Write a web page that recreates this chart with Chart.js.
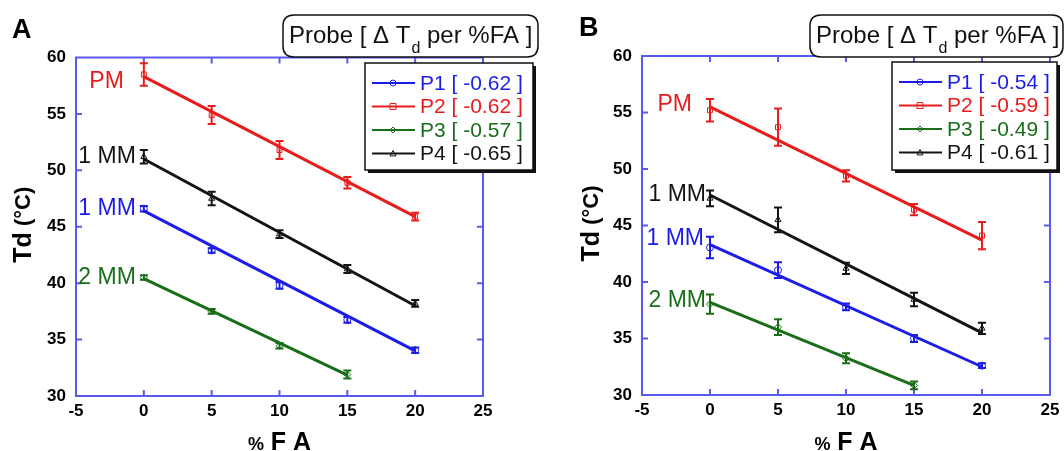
<!DOCTYPE html>
<html>
<head>
<meta charset="utf-8">
<script src="https://cdn.jsdelivr.net/npm/chart.js@4.4.1/dist/chart.umd.min.js"></script>
<style>
  html, body { margin: 0; padding: 0; background: #fff; }
  #wrap { position: relative; width: 1064px; height: 451px; overflow: hidden; }
  canvas { position: absolute; top: 0; }
  #chA { left: 0; }
  #chB { left: 545px; }
</style>
</head>
<body>
<div id="wrap">
  <canvas id="chA" width="545" height="451"></canvas>
  <canvas id="chB" width="519" height="451"></canvas>
</div>
<script>
// --- data ---
const faLevels = [0, 5, 10, 15, 20];
const probeNames = ['P1', 'P2', 'P3', 'P4'];
const probeTags = ['1 MM', 'PM', '2 MM', '1 MM'];

// panel A: Td (°C), error bar half heights, fit line ends (at first / last %FA)
const slopesA = ['-0.62', '-0.62', '-0.57', '-0.65'];
const tdA_P1 = [46.6, 42.9, 39.8, 36.75, 34.05];
const errA_P1 = [0.25, 0.2, 0.3, 0.25, 0.25];
const tdA_P2 = [58.5, 54.9, 51.8, 48.9, 45.9];
const errA_P2 = [1.0, 0.8, 0.8, 0.5, 0.35];
const tdA_P3 = [40.5, 37.5, 34.45, 31.9];
const errA_P3 = [0.2, 0.2, 0.25, 0.35];
const tdA_P4 = [51.2, 47.5, 44.35, 41.25, 38.2];
const errA_P4 = [0.6, 0.6, 0.35, 0.35, 0.3];
const fitA_P1 = [46.4, 34.0];
const fitA_P2 = [58.3, 45.9];
const fitA_P3 = [40.4, 31.85];
const fitA_P4 = [51.0, 38.0];

// panel B
const slopesB = ['-0.54', '-0.59', '-0.49', '-0.61'];
const tdB_P1 = [43.05, 41.05, 37.8, 35.0, 32.6];
const errB_P1 = [0.95, 0.7, 0.3, 0.3, 0.2];
const tdB_P2 = [55.2, 53.7, 49.4, 46.4, 44.1];
const errB_P2 = [1.0, 1.65, 0.5, 0.5, 1.2];
const tdB_P3 = [38.05, 36.0, 33.25, 30.85];
const errB_P3 = [0.85, 0.7, 0.45, 0.35];
const tdB_P4 = [47.4, 45.5, 41.2, 38.45, 35.9];
const errB_P4 = [0.7, 1.1, 0.5, 0.6, 0.5];
const fitB_P1 = [43.3, 32.5];
const fitB_P2 = [55.5, 43.7];
const fitB_P3 = [38.2, 30.85];
const fitB_P4 = [47.7, 35.5];

// --- style ---
const probeColors = ['#1c1ce8', '#e81c1c', '#1a6e1a', '#141414'];
const probeMarkers = ['circle', 'rect', 'rectRot', 'triangle'];
const frameColor = '#5a5af0';
const FONT = '"Liberation Sans", Arial, sans-serif';

function drawErrorBars(chart) {
  const ctx = chart.ctx;
  const y = chart.scales.y;
  chart.data.datasets.forEach((ds, i) => {
    if (!ds.errors) return;
    const meta = chart.getDatasetMeta(i);
    ctx.save();
    ctx.strokeStyle = ds.borderColor;
    ctx.lineWidth = 2;
    meta.data.forEach((pt, k) => {
      const v = ds.data[k].y, e = ds.errors[k];
      const top = y.getPixelForValue(v + e), bot = y.getPixelForValue(v - e);
      ctx.beginPath();
      ctx.moveTo(pt.x, top); ctx.lineTo(pt.x, bot);
      ctx.moveTo(pt.x - 4, top); ctx.lineTo(pt.x + 4, top);
      ctx.moveTo(pt.x - 4, bot); ctx.lineTo(pt.x + 4, bot);
      ctx.stroke();
    });
    ctx.restore();
  });
}

function drawFrame(chart) {
  const ctx = chart.ctx, a = chart.chartArea;
  const xs = chart.scales.x, ys = chart.scales.y;
  ctx.save();
  ctx.strokeStyle = frameColor;
  ctx.lineWidth = 2;
  ctx.strokeRect(a.left, a.top, a.right - a.left, a.bottom - a.top);
  ctx.beginPath();
  xs.ticks.forEach(t => {
    const px = xs.getPixelForValue(t.value);
    if (px <= a.left + 1 || px >= a.right - 1) return;
    ctx.moveTo(px, a.bottom); ctx.lineTo(px, a.bottom - 6);
    ctx.moveTo(px, a.top); ctx.lineTo(px, a.top + 6);
  });
  ys.ticks.forEach(t => {
    const py = ys.getPixelForValue(t.value);
    if (py <= a.top + 1 || py >= a.bottom - 1) return;
    ctx.moveTo(a.left, py); ctx.lineTo(a.left + 6, py);
    ctx.moveTo(a.right, py); ctx.lineTo(a.right - 6, py);
  });
  ctx.stroke();
  ctx.restore();
}

function marker(ctx, style, x, y, r, color) {
  ctx.save();
  ctx.strokeStyle = color; ctx.lineWidth = 1;
  ctx.beginPath();
  if (style === 'circle') ctx.arc(x, y, r, 0, Math.PI * 2);
  else if (style === 'rect') ctx.rect(x - r, y - r, 2 * r, 2 * r);
  else if (style === 'rectRot') { ctx.moveTo(x, y - r); ctx.lineTo(x + r, y); ctx.lineTo(x, y + r); ctx.lineTo(x - r, y); ctx.closePath(); }
  else { ctx.moveTo(x, y - r); ctx.lineTo(x + r, y + r * 0.8); ctx.lineTo(x - r, y + r * 0.8); ctx.closePath(); }
  ctx.stroke();
  ctx.restore();
}

function roundRect(ctx, x, y, w, h, r) {
  ctx.beginPath();
  ctx.moveTo(x + r, y);
  ctx.lineTo(x + w - r, y); ctx.quadraticCurveTo(x + w, y, x + w, y + r);
  ctx.lineTo(x + w, y + h - r); ctx.quadraticCurveTo(x + w, y + h, x + w - r, y + h);
  ctx.lineTo(x + r, y + h); ctx.quadraticCurveTo(x, y + h, x, y + h - r);
  ctx.lineTo(x, y + r); ctx.quadraticCurveTo(x, y, x + r, y);
  ctx.closePath();
}

function drawDecor(chart, p) {
  const ctx = chart.ctx, a = chart.chartArea;
  const xs = chart.scales.x, ys = chart.scales.y;

  // tags next to the first point of each probe
  ctx.save();
  ctx.font = '23px ' + FONT;
  ctx.textAlign = 'right';
  ctx.textBaseline = 'middle';
  p.series.forEach((s, i) => {
    ctx.fillStyle = probeColors[i];
    const px = xs.getPixelForValue(faLevels[0]) + p.tagShift[i][0];
    const py = ys.getPixelForValue(s.td[0]) + p.tagShift[i][1];
    ctx.fillText(probeTags[i], px, py);
  });
  ctx.restore();

  // title box
  const tb = p.titleBox;
  ctx.save();
  roundRect(ctx, tb.x, tb.y, tb.w, tb.h, 11);
  ctx.fillStyle = '#fff'; ctx.fill();
  ctx.strokeStyle = '#111'; ctx.lineWidth = 1.5; ctx.stroke();
  ctx.fillStyle = '#111';
  ctx.textBaseline = 'alphabetic';
  ctx.textAlign = 'left';
  let tx = tb.x + 6;
  ctx.font = '24px ' + FONT;
  ctx.fillText('Probe [ \u0394 T', tx, tb.y + 28);
  tx += ctx.measureText('Probe [ \u0394 T').width;
  ctx.font = '16px ' + FONT;
  ctx.fillText('d', tx + 1, tb.y + 38);
  tx += ctx.measureText('d').width + 1;
  ctx.font = '24px ' + FONT;
  ctx.fillText(' per %FA ]', tx, tb.y + 28);
  ctx.restore();

  // legend box with shadow
  const lb = p.legendBox;
  ctx.save();
  ctx.fillStyle = '#111';
  ctx.fillRect(lb.x + 3, lb.y + 3, lb.w, lb.h);
  ctx.fillStyle = '#fff';
  ctx.fillRect(lb.x, lb.y, lb.w, lb.h);
  ctx.strokeStyle = '#111'; ctx.lineWidth = 1.5;
  ctx.strokeRect(lb.x, lb.y, lb.w, lb.h);
  ctx.font = '21px ' + FONT;
  ctx.textBaseline = 'middle';
  ctx.textAlign = 'left';
  probeNames.forEach((name, i) => {
    const ry = lb.y + 20 + i * 23.5;
    ctx.strokeStyle = probeColors[i]; ctx.lineWidth = 2;
    ctx.beginPath(); ctx.moveTo(lb.x + 7, ry); ctx.lineTo(lb.x + 50, ry); ctx.stroke();
    marker(ctx, probeMarkers[i], lb.x + 28, ry, 3, probeColors[i]);
    ctx.fillStyle = probeColors[i];
    ctx.fillText(name + ' [ ' + p.slopes[i] + ' ]', lb.x + 55, ry + 1);
  });
  ctx.restore();

  // panel letter
  ctx.save();
  ctx.fillStyle = '#000';
  ctx.font = 'bold 27px ' + FONT;
  ctx.textBaseline = 'alphabetic';
  ctx.fillText(p.letter, p.letterX, p.letterY);
  ctx.restore();

  // y title: Td (°C)
  ctx.save();
  ctx.translate(p.yTitleX, (a.top + a.bottom) / 2 - 2);
  ctx.rotate(-Math.PI / 2);
  ctx.fillStyle = '#000';
  ctx.textBaseline = 'middle';
  ctx.textAlign = 'left';
  ctx.font = 'bold 25px ' + FONT;
  const w1 = ctx.measureText('Td').width;
  ctx.font = 'bold 22px ' + FONT;
  const w2 = ctx.measureText(' (\u00B0C)').width;
  let yx = -(w1 + w2) / 2;
  ctx.font = 'bold 25px ' + FONT;
  ctx.fillText('Td', yx, 0);
  ctx.font = 'bold 22px ' + FONT;
  ctx.fillText(' (\u00B0C)', yx + w1, 0);
  ctx.restore();

  // x title: % F A
  ctx.save();
  ctx.fillStyle = '#000';
  ctx.textBaseline = 'alphabetic';
  ctx.textAlign = 'left';
  ctx.font = 'bold 18px ' + FONT;
  const wp = ctx.measureText('%').width;
  ctx.font = 'bold 25px ' + FONT;
  const wf = ctx.measureText(' F A').width;
  let xx = (a.left + a.right) / 2 - (wp + wf) / 2;
  ctx.font = 'bold 18px ' + FONT;
  ctx.fillText('%', xx, p.xTitleY);
  ctx.font = 'bold 25px ' + FONT;
  ctx.fillText(' F A', xx + wp, p.xTitleY);
  ctx.restore();
}

const decorPlugin = {
  id: 'panelDecor',
  beforeDatasetsDraw(chart, args, opts) { drawFrame(chart); },
  afterDatasetsDraw(chart, args, opts) { drawErrorBars(chart); },
  afterDraw(chart, args, opts) { drawDecor(chart, opts); }
};

function makePanel(id, p) {
  const datasets = [];
  p.series.forEach((s, i) => {
    const xs = faLevels.slice(0, s.td.length);
    datasets.push({
      label: probeNames[i] + ' fit',
      data: [{ x: xs[0], y: s.fit[0] }, { x: xs[xs.length - 1], y: s.fit[1] }],
      showLine: true,
      borderColor: probeColors[i],
      borderWidth: 3,
      pointRadius: 0,
      order: 2
    });
    datasets.push({
      label: probeNames[i],
      data: xs.map((x, k) => ({ x: x, y: s.td[k] })),
      errors: s.err,
      pointStyle: probeMarkers[i],
      pointRadius: 3.5,
      borderWidth: 1,
      borderColor: probeColors[i],
      backgroundColor: 'rgba(255,255,255,0)',
      order: 1
    });
  });

  const tickFont = { family: FONT, size: 17, weight: 'bold' };
  return new Chart(document.getElementById(id), {
    type: 'scatter',
    data: { datasets: datasets },
    options: {
      responsive: false,
      animation: false,
      layout: { padding: { top: p.area.top, right: p.area.right, left: 0, bottom: 0 } },
      plugins: { legend: { display: false }, tooltip: { enabled: false }, panelDecor: p },
      scales: {
        x: {
          type: 'linear', min: -5, max: 25,
          ticks: { stepSize: 5, font: tickFont, color: '#000', padding: -3 },
          grid: { display: false }, border: { display: false },
          afterFit: (s) => { s.height = p.area.xHeight; }
        },
        y: {
          type: 'linear', min: 30, max: 60,
          ticks: { stepSize: 5, font: tickFont, color: '#000', padding: 2 },
          grid: { display: false }, border: { display: false },
          afterFit: (s) => { s.width = p.area.yWidth; }
        }
      }
    },
    plugins: [decorPlugin]
  });
}

makePanel('chA', {
  series: [
    { td: tdA_P1, err: errA_P1, fit: fitA_P1 },
    { td: tdA_P2, err: errA_P2, fit: fitA_P2 },
    { td: tdA_P3, err: errA_P3, fit: fitA_P3 },
    { td: tdA_P4, err: errA_P4, fit: fitA_P4 }
  ],
  slopes: slopesA,
  area: { top: 57.5, right: 62, yWidth: 76, xHeight: 55 },
  tagShift: [[-8, 0], [-20, 7], [-8, 0], [-8, 0]],
  titleBox: { x: 283, y: 15, w: 255, h: 42 },
  legendBox: { x: 365, y: 63, w: 168, h: 107 },
  letter: 'A', letterX: 12, letterY: 38,
  yTitleX: 24, xTitleY: 450
});

makePanel('chB', {
  series: [
    { td: tdB_P1, err: errB_P1, fit: fitB_P1 },
    { td: tdB_P2, err: errB_P2, fit: fitB_P2 },
    { td: tdB_P3, err: errB_P3, fit: fitB_P3 },
    { td: tdB_P4, err: errB_P4, fit: fitB_P4 }
  ],
  slopes: slopesB,
  area: { top: 56, right: 14, yWidth: 97, xHeight: 56 },
  tagShift: [[-6, -9], [-18, -6], [-4, -3], [-4, -4]],
  titleBox: { x: 265, y: 15, w: 253, h: 42 },
  legendBox: { x: 347, y: 62, w: 165, h: 108 },
  letter: 'B', letterX: 34, letterY: 36,
  yTitleX: 47, xTitleY: 450
});
</script>
</body>
</html>
